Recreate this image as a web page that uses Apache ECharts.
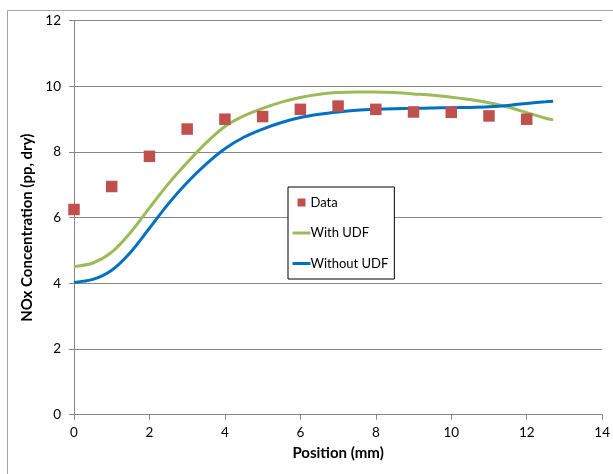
<!DOCTYPE html>
<html>
<head>
<meta charset="utf-8">
<script src="https://cdn.jsdelivr.net/npm/echarts@6/dist/echarts.min.js"></script>
<style>
  html, body { margin: 0; padding: 0; background: #fff; }
  #chart { width: 613px; height: 474px; }
</style>
</head>
<body>
<div id="chart"></div>
<script>
// Measured data points
const dataPositions = [0, 1, 2, 3, 4, 5, 6, 7, 8, 9, 10, 11, 12];
const dataValues = [6.25, 6.95, 7.87, 8.7, 9.0, 9.08, 9.3, 9.4, 9.3, 9.22, 9.21, 9.1, 9.0];

// Model curves
const curvePositions = [0, 0.5, 1, 1.5, 2, 2.5, 3, 3.5, 4, 4.5, 5, 5.5, 6, 6.5, 7, 7.5, 8, 8.5, 9, 9.5, 10, 10.5, 11, 11.5, 12, 12.5, 12.7];
const withUDF = [4.51, 4.62, 4.95, 5.55, 6.3, 7.03, 7.68, 8.28, 8.78, 9.1, 9.33, 9.52, 9.66, 9.76, 9.81, 9.83, 9.83, 9.81, 9.77, 9.73, 9.67, 9.6, 9.5, 9.37, 9.2, 9.03, 8.98];
const withoutUDF = [4.03, 4.12, 4.4, 4.95, 5.68, 6.42, 7.07, 7.63, 8.1, 8.45, 8.7, 8.9, 9.05, 9.15, 9.22, 9.27, 9.3, 9.32, 9.33, 9.34, 9.35, 9.36, 9.38, 9.42, 9.48, 9.53, 9.55];

// Axes
const xTicks = { min: 0, max: 14, interval: 2 };
const yTicks = { min: 0, max: 12, interval: 2 };

const seriesNames = ['Data', 'With UDF', 'Without UDF'];

const zip = (xs, ys) => xs.map((x, i) => [x, ys[i]]);

const FONT = 'Lato, "Open Sans", sans-serif';
const chart = echarts.init(document.getElementById('chart'), null, { renderer: 'canvas' });

chart.setOption({
  animation: false,
  backgroundColor: '#ffffff',
  graphic: [{
    type: 'rect',
    shape: { x: 7.5, y: 10.5, width: 620, height: 480 },
    style: { fill: 'none', stroke: '#a6a6a6', lineWidth: 1 },
    silent: true,
    z: -1
  }],
  grid: { left: 74, right: 4.5, top: 20.7, bottom: 59.3, containLabel: false },
  legend: {
    orient: 'vertical',
    left: 288,
    top: 187,
    padding: [9, 6, 9, 4.5],
    itemGap: 17.5,
    itemWidth: 18,
    itemHeight: 8,
    borderColor: '#000',
    borderWidth: 1,
    backgroundColor: '#fff',
    textStyle: { fontFamily: FONT, fontSize: 13, color: '#000', padding: [0, 0, 0, -5] },
    data: [
      { name: seriesNames[0], icon: 'path://M0,0h10v10h-10z' },
      { name: seriesNames[1], icon: 'path://M0,0h18v3h-18z' },
      { name: seriesNames[2], icon: 'path://M0,0h18v3h-18z' }
    ]
  },
  xAxis: {
    type: 'value',
    min: xTicks.min, max: xTicks.max, interval: xTicks.interval,
    name: 'Position (mm)',
    nameLocation: 'middle',
    nameGap: 31,
    nameTextStyle: { fontFamily: FONT, fontSize: 15, fontWeight: 'bold', color: '#000' },
    axisLine: { show: true, lineStyle: { color: '#868686', width: 1 } },
    axisTick: { show: true, inside: false, length: 5, lineStyle: { color: '#868686' } },
    axisLabel: { fontFamily: FONT, fontSize: 13.5, color: '#000', margin: 11 },
    splitLine: { show: false }
  },
  yAxis: {
    type: 'value',
    min: yTicks.min, max: yTicks.max, interval: yTicks.interval,
    name: 'NOx Concentration (pp, dry)',
    nameLocation: 'middle',
    nameGap: 33,
    nameRotate: 90,
    nameTextStyle: { fontFamily: FONT, fontSize: 15, fontWeight: 'bold', color: '#000', padding: [0, 20, 0, 0] },
    axisLine: { show: true, lineStyle: { color: '#868686', width: 1 } },
    axisTick: { show: true, inside: false, length: 5, lineStyle: { color: '#868686' } },
    axisLabel: { fontFamily: FONT, fontSize: 13.5, color: '#000', margin: 13 },
    splitLine: { show: true, lineStyle: { color: '#868686', width: 1 } }
  },
  series: [
    {
      name: seriesNames[1],
      type: 'line',
      data: zip(curvePositions, withUDF),
      smooth: 0.3,
      showSymbol: false,
      symbol: 'none',
      lineStyle: { color: '#9BBB59', width: 3 },
      itemStyle: { color: '#9BBB59' },
      z: 2
    },
    {
      name: seriesNames[2],
      type: 'line',
      data: zip(curvePositions, withoutUDF),
      smooth: 0.3,
      showSymbol: false,
      symbol: 'none',
      lineStyle: { color: '#0070C0', width: 3 },
      itemStyle: { color: '#0070C0' },
      z: 3
    },
    {
      name: seriesNames[0],
      type: 'scatter',
      data: zip(dataPositions, dataValues),
      symbol: 'rect',
      symbolSize: 11.5,
      itemStyle: { color: '#C0504D', opacity: 1 },
      z: 4
    }
  ]
});
</script>
</body>
</html>
